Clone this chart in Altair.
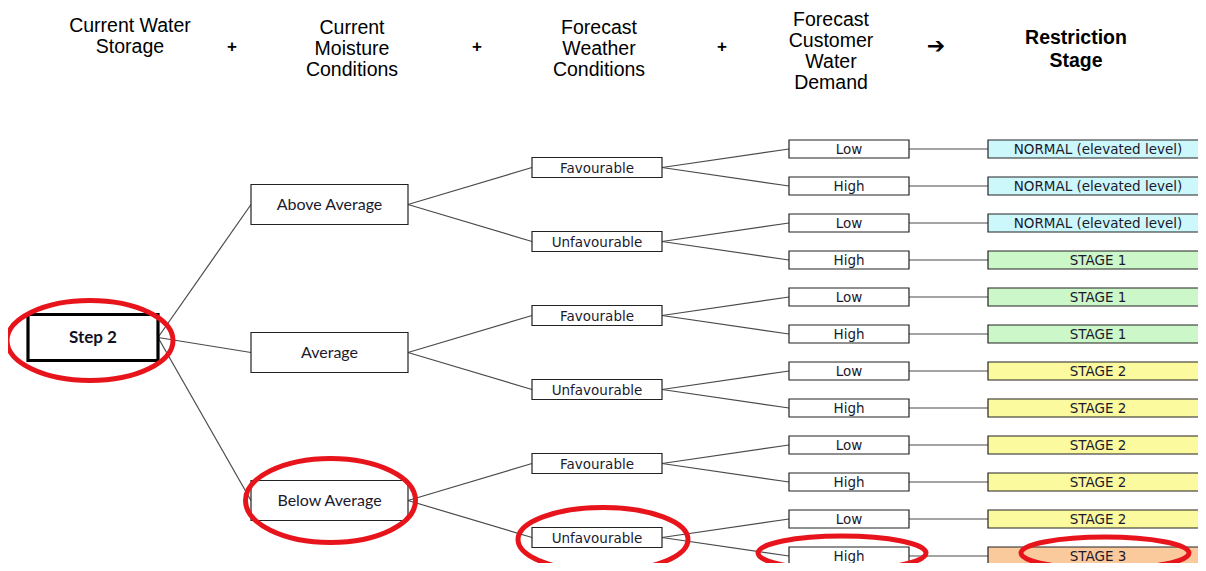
import altair as alt
import pandas as pd

# ---------------- data ----------------
storage = ["Step 2"]
moisture = ["Above Average", "Average", "Below Average"]
weather = ["Favourable", "Unfavourable"]
demand = ["Low", "High"]
stages = (["NORMAL (elevated level)"] * 3 + ["STAGE 1"] * 3 +
          ["STAGE 2"] * 5 + ["STAGE 3"])
stage_colors = {
    "NORMAL (elevated level)": "#ccf8fc",
    "STAGE 1": "#ccf7c8",
    "STAGE 2": "#fbfa9e",
    "STAGE 3": "#fac99c",
}
headers = [["Current Water", "Storage"],
           ["Current", "Moisture", "Conditions"],
           ["Forecast", "Weather", "Conditions"],
           ["Forecast", "Customer", "Water", "Demand"],
           ["Restriction", "Stage"]]
operators = ["+", "+", "+", "\u2794"]
highlight_path = [0, 2, 1, 1]   # Step 2 -> Below Average -> Unfavourable -> High -> STAGE 3

# ---------------- layout (not data) ----------------
COL = {0: (28, 158, 46), 1: (251, 408, 40), 2: (532, 662, 20),
       3: (789, 909, 18), 4: (988, 1214, 18)}
HEAD_X = [130, 352, 599, 831, 1076]
HEAD_CY = [36.5, 48.5, 48.5, 51.5, 48.5]
HEAD_LH = 21
OP_X = [232, 477, 722, 936]
LEAF_Y0, LEAF_DY = 149, 37
ROOT_SHIFT = -15
HALO = {0: (83, 40, -3, 3), 1: (85, 42, 1, 0), 2: (85, 32, 6, 2),
        3: (84, 17, -7, -3), 4: (84, 16, 7, -3)}

nodes = []
edges = []
by_key = {}


def add(level, label, y, parent, key):
    x0, x1, h = COL[level]
    tx = (x0 + x1) / 2 if level < 4 else 1098
    n = dict(level=level, label=label, x0=x0, x1=x1,
             y0=y - h / 2, y1=y + h / 2, yc=y, tx=tx)
    nodes.append(n)
    by_key[key] = n
    if parent is not None:
        edges.append(dict(xa=parent["x1"], ya=parent["yc"], xb=x0, yb=y))
    return n


l2_nodes = []
for k, m in enumerate(moisture):
    l3_nodes = []
    for j, w in enumerate(weather):
        l4 = []
        for i, d in enumerate(demand):
            li = k * 4 + j * 2 + i
            l4.append((d, LEAF_Y0 + LEAF_DY * li, li, i))
        l3_nodes.append((w, sum(v[1] for v in l4) / 2, l4, j))
    l2_nodes.append((m, sum(v[1] for v in l3_nodes) / 2, l3_nodes, k))

root_y = sum(v[1] for v in l2_nodes) / 3 + ROOT_SHIFT
root = add(0, storage[0], root_y, None, (0,))
for m, my, l3s, k in l2_nodes:
    n2 = add(1, m, my, root, (0, k))
    for w, wy, l4s, j in l3s:
        n3 = add(2, w, wy, n2, (0, k, j))
        for d, dy, li, i in l4s:
            n4 = add(3, d, dy, n3, (0, k, j, i))
            add(4, stages[li], dy, n4, (0, k, j, i, "s"))

nd = pd.DataFrame(nodes)
nd["fill"] = [stage_colors.get(l, "#ffffff") if lv == 4 else "#ffffff"
              for l, lv in zip(nd["label"], nd["level"])]
ed = pd.DataFrame(edges)

# highlighted ellipses along the highlighted path
hkeys = [(highlight_path[0],)]
for step in highlight_path[1:]:
    hkeys.append(hkeys[-1] + (step,))
hkeys.append(hkeys[-1] + ("s",))
halo_rows = []
for key in hkeys:
    n = by_key[key]
    rx, ry, dx, dy = HALO[n["level"]]
    r = ry / rx
    halo_rows.append(dict(x=n["tx"] + dx, y=n["yc"] + dy,
                          shape=f"M -1 0 A 1 {r:.4f} 0 1 0 1 0 A 1 {r:.4f} 0 1 0 -1 0 Z",
                          s=(2 * rx) ** 2))
hd = pd.DataFrame(halo_rows)

head_df = pd.DataFrame(dict(
    x=HEAD_X,
    y=[cy - (len(h) - 1) * HEAD_LH / 2 for cy, h in zip(HEAD_CY, headers)],
    text=["\n".join(h) for h in headers],
    bold=[False, False, False, False, True]))
op_df = pd.DataFrame(dict(x=OP_X, y=[47, 47, 47, 46], text=operators))

# ---------------- chart ----------------
xs = alt.Scale(domain=[8, 1198], nice=False, zero=False)
ys = alt.Scale(domain=[8, 563], nice=False, zero=False, reverse=True)


def X(f):
    return alt.X(f, scale=xs, axis=None)


def Y(f):
    return alt.Y(f, scale=ys, axis=None)


edge_layer = alt.Chart(ed).mark_rule(color="#4a4a4a", strokeWidth=1.2).encode(
    x=X("xa:Q"), y=Y("ya:Q"), x2="xb:Q", y2="yb:Q")

box_base = alt.Chart(nd)
boxes = box_base.transform_filter("datum.level > 0").mark_rect(
    stroke="#222222", strokeWidth=1.2).encode(
    x=X("x0:Q"), x2="x1:Q", y=Y("y0:Q"), y2="y1:Q",
    fill=alt.Fill("fill:N", scale=None))
root_box = box_base.transform_filter("datum.level == 0").mark_rect(
    stroke="#000000", strokeWidth=3.2, fill="#ffffff").encode(
    x=X("x0:Q"), x2="x1:Q", y=Y("y0:Q"), y2="y1:Q")

root_text = box_base.transform_filter("datum.level == 0").mark_text(
    font="Lato", fontSize=17, fontWeight="bold", color="#111122",
    baseline="middle").encode(x=X("tx:Q"), y=Y("yc:Q"), text="label:N")
l2_text = box_base.transform_filter("datum.level == 1").mark_text(
    font="Lato", fontSize=16, color="#1a1a2e", baseline="middle").encode(
    x=X("tx:Q"), y=Y("yc:Q"), text="label:N")
small_text = box_base.transform_filter("datum.level >= 2").mark_text(
    font="DejaVu Sans", fontSize=13.5, color="#1a1a2e", baseline="middle",
    dy=1).encode(x=X("tx:Q"), y=Y("yc:Q"), text="label:N")

head_norm = alt.Chart(head_df).transform_filter("!datum.bold").mark_text(
    font="Liberation Sans", fontSize=19.5, color="#000000", baseline="middle",
    lineBreak="\n", lineHeight=HEAD_LH).encode(x=X("x:Q"), y=Y("y:Q"), text="text:N")
head_bold = alt.Chart(head_df).transform_filter("datum.bold").mark_text(
    font="Liberation Sans", fontSize=19.5, fontWeight="bold", color="#000000",
    baseline="middle", lineBreak="\n", lineHeight=23).encode(
    x=X("x:Q"), y=Y("y:Q"), text="text:N")
ops = alt.Chart(op_df).transform_filter("datum.text == '+'").mark_text(
    font="Liberation Sans", fontSize=17, fontWeight="bold", color="#000000",
    baseline="middle").encode(x=X("x:Q"), y=Y("y:Q"), text="text:N")
arrow = alt.Chart(op_df).transform_filter("datum.text != '+'").mark_text(
    font="DejaVu Sans", fontSize=22, fontWeight="bold", color="#000000",
    baseline="middle").encode(x=X("x:Q"), y=Y("y:Q"), text="text:N")

halos = alt.Chart(hd).mark_point(filled=False, strokeWidth=5,
                                 color="#e8141c", opacity=1).encode(
    x=X("x:Q"), y=Y("y:Q"),
    shape=alt.Shape("shape:N", scale=None),
    size=alt.Size("s:Q", scale=None))

chart = alt.layer(edge_layer, boxes, root_box, root_text, l2_text, small_text,
                  head_norm, head_bold, ops, arrow, halos).properties(
    width=1190, height=555, padding=0,
    autosize=alt.AutoSizeParams(type="none"),
    background="#ffffff").configure_view(stroke=None)

chart.save("out.html", embed_options={"renderer": "svg", "actions": False})
